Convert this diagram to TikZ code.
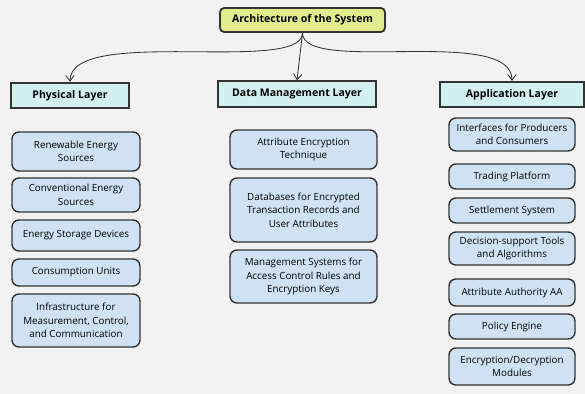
\documentclass[tikz,border=0pt]{standalone}
\usepackage{fontspec}
\setmainfont{Open Sans}
\usepackage{tikz}
\usetikzlibrary{arrows.meta,positioning}

\definecolor{bgray}{HTML}{F2F2F2}
\definecolor{titlefill}{HTML}{E2EC8C}
\definecolor{layerfill}{HTML}{D2F0F0}
\definecolor{itemfill}{HTML}{CFE2F3}
\definecolor{edgegray}{HTML}{333333}

\begin{document}
\begin{tikzpicture}[x=0.025cm,y=-0.025cm,>={Straight Barb[length=4pt,width=6pt]}]
%\draw[gray,very thin] (0,0) grid (585,394);
\tikzstyle{title} = [draw=edgegray, fill=titlefill, shape=rectangle, rounded corners=3pt, line width=1.3pt, font=\fontsize{7.5}{9}\selectfont\bfseries, minimum width=4.125cm, minimum height=0.6cm]
\tikzstyle{layer} = [draw=edgegray, fill=layerfill, shape=rectangle, line width=1.3pt, font=\fontsize{7.5}{9}\selectfont\bfseries, minimum height=0.64cm]
\tikzstyle{item} = [draw=edgegray, fill=itemfill, shape=rectangle, rounded corners=5pt, line width=1pt, font=\fontsize{7}{9.6}\selectfont, align=center, inner sep=1pt]
\fill[bgray] (0,0) rectangle (585,394);
\useasboundingbox (0,0) rectangle (585,394);
%Creating Blocks
\node at (302.5,20) [title] (arch) {Architecture of the System};
\node at (70,95.5) [layer, minimum width=2.95cm] (phys) {Physical Layer};
\node at (297,94) [layer, minimum width=3.95cm] (dml) {Data Management Layer};
\node at (512,94.5) [layer, minimum width=3.6cm] (app) {Application Layer};

% physical layer
\node at (76,151.5) [item, minimum width=3.2cm, minimum height=0.975cm] (p1) {Renewable Energy\\Sources};
\node at (76,195) [item, minimum width=3.2cm, minimum height=0.85cm] (p2) {Conventional Energy\\Sources};
\node at (76,235.5) [item, minimum width=3.2cm, minimum height=0.775cm] (p3) {Energy Storage Devices};
\node at (76,272.5) [item, minimum width=3.2cm, minimum height=0.675cm] (p4) {Consumption Units};
\node at (76,320.5) [item, minimum width=3.2cm, minimum height=1.325cm] (p5) {Infrastructure for\\Measurement, Control,\\and Communication};

% data management layer
\node at (303.5,149.5) [item, minimum width=3.675cm, minimum height=0.975cm] (d1) {Attribute Encryption\\Technique};
\node at (303.5,210) [item, minimum width=3.675cm, minimum height=1.6cm] (d2) {Databases for Encrypted\\Transaction Records and\\User Attributes};
\node at (303.5,276.5) [item, minimum width=3.675cm, minimum height=1.325cm] (d3) {Management Systems for\\Access Control Rules and\\Encryption Keys};

% application layer
\node at (512,134.5) [item, minimum width=3.15cm, minimum height=0.825cm] (a1) {Interfaces for Producers\\and Consumers};
\node at (512,176.5) [item, minimum width=3.15cm, minimum height=0.625cm] (a2) {Trading Platform};
\node at (512,210.5) [item, minimum width=3.15cm, minimum height=0.625cm] (a3) {Settlement System};
\node at (512,248.5) [item, minimum width=3.15cm, minimum height=0.825cm] (a4) {Decision-support Tools\\and Algorithms};
\node at (512,292.5) [item, minimum width=3.15cm, minimum height=0.675cm] (a5) {Attribute Authority AA};
\node at (512,326.5) [item, minimum width=3.15cm, minimum height=0.625cm] (a6) {Policy Engine};
\node at (512,366.5) [item, minimum width=3.15cm, minimum height=0.925cm] (a7) {Encryption/Decryption\\Modules};

\begin{scope}[line width = 0.6pt, draw=edgegray]
\draw[->] (arch.south) .. controls (302.5,75) and (70,25) .. (phys.north);
\draw[->] (arch.south) -- (dml.north);
\draw[->] (arch.south) .. controls (302.5,75) and (512,25) .. (app.north);
\end{scope}

\end{tikzpicture}
\end{document}
